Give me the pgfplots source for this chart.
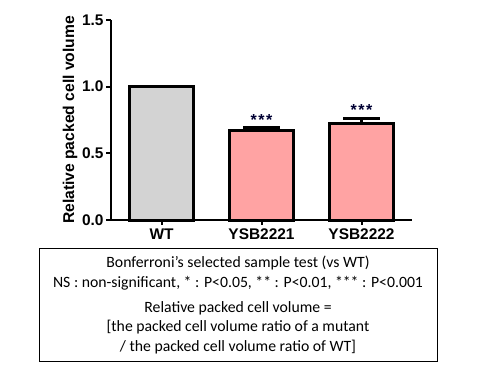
\documentclass[border=0pt]{standalone}
\usepackage{pgfplots}
\pgfplotsset{compat=1.18}
\usepackage{fontspec}
\setmainfont{Liberation Sans}
\newfontfamily\calibri{Carlito}
\definecolor{wtgray}{HTML}{D3D3D3}
\definecolor{mutpink}{HTML}{FFA3A3}
\newcommand{\stars}{*\kern1.5bp*\kern1.5bp*}
\begin{document}
\begin{tikzpicture}[x=1bp,y=1bp]
\useasboundingbox (0,0) rectangle (480,370);
\begin{axis}[
  at={(111bp,150bp)}, anchor=south west,
  scale only axis, width=301bp, height=200bp,
  xmin=-0.505, xmax=2.505, ymin=0, ymax=1.5,
  axis lines*=left,
  axis line style={line width=2.5bp, -},
  ytick={0,0.5,1,1.5}, yticklabels={0.0,0.5,1.0,1.5},
  xtick={0,1,2}, xticklabels={WT,YSB2221,YSB2222},
  tick style={line width=2bp, black},
  major tick length=5bp, tick align=outside,
  /pgf/number format/assume math mode=true,
  ticklabel style={font=\fontsize{15.5}{18}\selectfont\bfseries},
  yticklabel style={xshift=1bp},
  ylabel={Relative packed cell volume},
  ylabel style={at={(axis description cs:-0.136,0.5)}, anchor=center, font=\fontsize{15.7}{18}\selectfont\bfseries},
  ybar, bar width=64bp,
  clip=false,
]
\addplot[bar shift=0pt, fill=wtgray, draw=black, line width=3bp] coordinates {(0,1.0)};
\addplot[bar shift=0pt, fill=mutpink, draw=black, line width=3bp,
  error bars/.cd, y dir=plus, y explicit,
  error bar style={line width=3bp, black},
  error mark options={rotate=90, mark size=18.5bp, line width=3bp, black}]
  coordinates {(1,0.67) +- (0,0.02) (2,0.725) +- (0,0.038)};
\node[font=\fontsize{16}{16}\selectfont\bfseries, anchor=base, inner sep=0pt, text=black!80!blue] at (axis cs:1,0.71) {\stars};
\node[font=\fontsize{16}{16}\selectfont\bfseries, anchor=base, inner sep=0pt, text=black!80!blue] at (axis cs:2,0.78) {\stars};
\end{axis}
\draw[line width=1bp] (39,122) rectangle (437,9);
\begin{scope}[every node/.style={font=\calibri\fontsize{15.8}{18}\selectfont, inner sep=0pt}]
\node at (238,107) {Bonferroni’s selected sample test (vs WT)};
\node at (238,87) {NS : non-significant, * : P<0.05, ** : P<0.01, *** : P<0.001};
\node at (238,62) {Relative packed cell volume =};
\node at (238,43) {[the packed cell volume ratio of a mutant};
\node at (238,23) {/ the packed cell volume ratio of WT]};
\end{scope}
\end{tikzpicture}
\end{document}
